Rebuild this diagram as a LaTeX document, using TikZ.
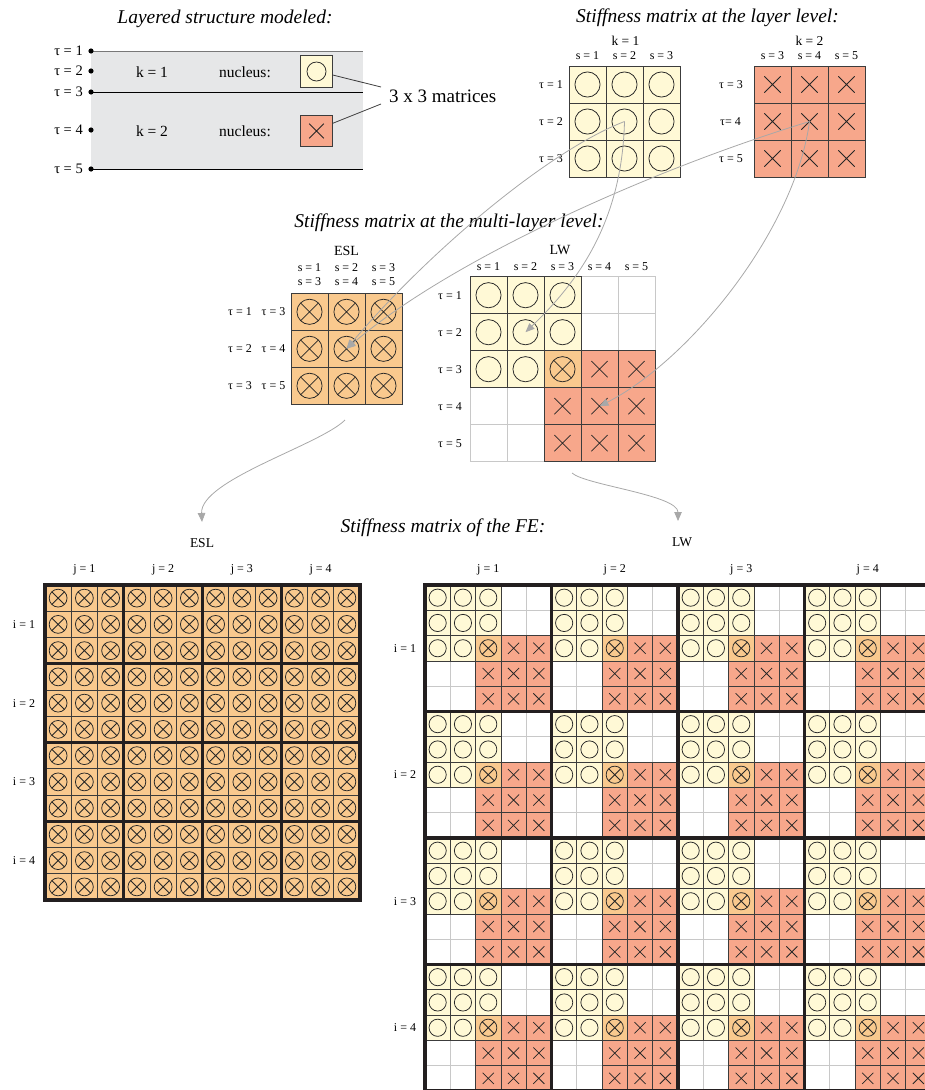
\documentclass[tikz,border=0pt]{standalone}
\usepackage{fontspec}
\setmainfont{Liberation Serif}
\usetikzlibrary{arrows.meta,calc}

\definecolor{cCream}{HTML}{FFF9D6}
\definecolor{cSal}{HTML}{F7A78B}
\definecolor{cOr}{HTML}{F9C98E}
\definecolor{cBand}{HTML}{E6E7E8}
\definecolor{cBd}{HTML}{3C3C3C}
\definecolor{cLt}{HTML}{C8C8C8}
\definecolor{cArr}{HTML}{A8A8A8}
\definecolor{cThick}{HTML}{231F20}
\definecolor{cTop}{HTML}{787878}

\newcommand\titlefont{\fontsize{19.5}{22}\selectfont\itshape}
\newcommand\bigfont{\fontsize{19}{22}\selectfont}
\newcommand\labfont{\fontsize{12}{14}\selectfont}
\newcommand\kfont{\fontsize{13.5}{16}\selectfont}
\newcommand\midfont{\fontsize{15.5}{18}\selectfont}
\newcommand\taufont{\fontsize{14.5}{17}\selectfont}

\newcommand\symN[3]{}
\newcommand\symO[3]{\draw[symline] (#1,#2) circle[radius={#3*0.34pt}];}
\newcommand\symX[3]{\pgfmathsetmacro\hh{#3*0.22}%
  \draw[symline] ({#1-\hh},{#2-\hh}) -- ({#1+\hh},{#2+\hh}) ({#1-\hh},{#2+\hh}) -- ({#1+\hh},{#2-\hh});}
\newcommand\symOX[3]{\pgfmathsetmacro\hh{#3*0.34*0.7071}%
  \draw[symline] (#1,#2) circle[radius={#3*0.34pt}] ({#1-\hh},{#2-\hh}) -- ({#1+\hh},{#2+\hh}) ({#1-\hh},{#2+\hh}) -- ({#1+\hh},{#2-\hh});}
\newcommand\drawcell[6]{\pgfmathsetmacro\hs{#3/2}%
  \filldraw[fill=#4,draw=#5,line width=0.8pt] ({#1-\hs},{#2-\hs}) rectangle ({#1+\hs},{#2+\hs});%
  \csname sym#6\endcsname{#1}{#2}{#3}}
% uniform matrix: x0 y0 cell rows cols fill sym
\newcommand\uniform[7]{%
  \foreach \rr in {1,...,#4}{\foreach \cc in {1,...,#5}{%
    \pgfmathsetmacro\cx{#1+(\cc-0.5)*#3}\pgfmathsetmacro\cy{#2+(\rr-0.5)*#3}%
    \drawcell{\cx}{\cy}{#3}{#6}{cBd}{#7}}}}
% LW 5x5 block: x0 y0 cell
\newcommand\lwblock[3]{%
  \foreach \rr in {0,...,4}{\foreach \cc in {0,...,4}{%
    \pgfmathsetmacro\cx{#1+(\cc+0.5)*#3}\pgfmathsetmacro\cy{#2+(\rr+0.5)*#3}%
    \drawcell{\cx}{\cy}{#3}{white}{cLt}{N}}}%
  \foreach \rr in {0,...,4}{\foreach \cc in {0,...,4}{%
    \pgfmathtruncatemacro\kk{(\rr<3)*(\cc<3)+3*(\rr>1)*(\cc>1)}%
    \pgfmathsetmacro\cx{#1+(\cc+0.5)*#3}\pgfmathsetmacro\cy{#2+(\rr+0.5)*#3}%
    \ifcase\kk
      \or \drawcell{\cx}{\cy}{#3}{cCream}{cBd}{O}%
      \or
      \or \drawcell{\cx}{\cy}{#3}{cSal}{cBd}{X}%
      \or \drawcell{\cx}{\cy}{#3}{cOr}{cBd}{OX}%
    \fi}}}

\begin{document}
\begin{tikzpicture}[x=1pt,y=-1pt,
  symline/.style={draw=black!85,line width=0.75pt},
  ttl/.style={font=\titlefont,inner sep=0pt},
  lab/.style={font=\labfont,inner sep=0pt},
  klab/.style={font=\kfont,inner sep=0pt},
  midlab/.style={font=\midfont,inner sep=0pt},
  taulab/.style={font=\taufont,inner sep=0pt},
  nucbox/.style={draw=cBd,line width=0.9pt,minimum size=31.6pt,inner sep=0pt},
  conn/.style={draw=cArr,line width=0.8pt,-{Triangle[length=9pt,width=7.5pt]}},
  thickl/.style={draw=cThick,line width=3.2pt,line cap=rect}]
\useasboundingbox (0,0) rectangle (925,1090);
\clip (0,0) rectangle (925,1090);

% titles
\node[ttl,anchor=base] (T1) at (225,23.3) {Layered structure modeled:};
\node[ttl,anchor=base] (T2) at (707.5,22.5) {Stiffness matrix at the layer level:};
\node[ttl,anchor=base] (T3) at (449,227) {Stiffness matrix at the multi-layer level:};
\node[ttl,anchor=base] (T4) at (443,532) {Stiffness matrix of the FE:};

% layered structure
\fill[cBand] (91,51) rectangle (363,169);
\foreach \n/\yy in {1/51,2/71,3/92,4/130,5/169}{
  \coordinate (tau\n) at (91,\yy);
  \node[taulab,anchor=east] (taul\n) at (83,\yy) {τ = \n};
}
\draw[line width=1pt,cTop] (tau1) -- ++(272,0);
\draw[line width=0.9pt] (tau3) -- ++(272,0);
\draw[line width=0.9pt] (tau5) -- ++(272,0);
\foreach \n in {1,...,5}{\fill (tau\n) circle[radius=2.6pt];}
\node[midlab] (k1) at (152,72) {k = 1};
\node[midlab] (nu1) at (245,72) {nucleus:};
\node[midlab] (k2) at (152,131) {k = 2};
\node[midlab] (nu2) at (245,131) {nucleus:};
\node[nucbox,fill=cCream] (nuc1) at (316.5,71.5) {};
\symO{316.5}{71.5}{28}
\node[nucbox,fill=cSal] (nuc2) at (316.5,131) {};
\symX{316.5}{131}{33}
\node[font=\bigfont,inner sep=0pt,anchor=west] (m33) at (389,96) {3 x 3 matrices};
\draw[line width=0.8pt,cBd] ([yshift=-3.5pt]nuc1.east) -- ([xshift=-8pt,yshift=9pt]m33.west);
\draw[line width=0.8pt,cBd] ([yshift=7.7pt]nuc2.east) -- ([xshift=-8pt,yshift=-8pt]m33.west);

% layer level matrices
\uniform{569}{66}{37}{3}{3}{cCream}{O}
\uniform{754}{66}{37}{3}{3}{cSal}{X}
\node[klab] (lk1) at (625.5,41) {k = 1};
\node[klab] (lk2) at (809.5,41) {k = 2};
\foreach \s [count=\i from 0] in {1,2,3}{
  \node[lab] (ls1\s) at ({587.5+37*\i},56) {s = \s};}
\foreach \s [count=\i from 0] in {3,4,5}{
  \node[lab] (ls2\s) at ({772.5+37*\i},56) {s = \s};}
\foreach \t [count=\i from 0] in {1,2,3}{
  \node[lab,anchor=east] (lt1\t) at (563,{84.5+37*\i}) {τ = \t};}
\node[lab,anchor=east] (lt23) at (743,84.5) {τ = 3};
\node[lab,anchor=east] (lt24) at (741,121.5) {τ= 4};
\node[lab,anchor=east] (lt25) at (743,158.5) {τ = 5};
\coordinate (k1c) at (624.5,121.5);
\coordinate (k2c) at (809.5,121.5);

% multi-layer level
\uniform{291}{293.3}{37}{3}{3}{cOr}{OX}
\lwblock{470}{276.7}{37}
\node[font=\fontsize{14}{16}\selectfont,inner sep=0pt] (eslT) at (346.5,250.5) {ESL};
\node[font=\fontsize{14}{16}\selectfont,inner sep=0pt] (lwT) at (560,250) {LW};
\foreach \s [count=\i from 0] in {1,2,3}{
  \node[lab] (es\s) at ({309.5+37*\i},268) {s = \s};}
\foreach \s [count=\i from 0] in {3,4,5}{
  \node[lab] (esb\s) at ({309.5+37*\i},282) {s = \s};}
\foreach \t/\u [count=\i from 0] in {1/3,2/4,3/5}{
  \node[lab,anchor=east] (et\t) at (252,{311.8+37*\i}) {τ = \t};
  \node[lab,anchor=east] (etb\u) at (285.5,{311.8+37*\i}) {τ = \u};}
\foreach \s [count=\i from 0] in {1,...,5}{
  \node[lab] (ls\s) at ({488.5+37*\i},266.7) {s = \s};
  \node[lab,anchor=east] (lt\s) at (462,{295.2+37*\i}) {τ = \s};}
\coordinate (eslc) at (346.5,348.8);
\coordinate (lw22) at (525.5,332.2);
\coordinate (lw44) at (599.5,406.2);

% connectors
\draw[conn] (k1c) .. controls (550,150) and (430,250) .. (eslc);
\draw[conn] (k2c) .. controls (650,170) and (450,260) .. (eslc);
\draw[conn] (k1c) .. controls (622,220) and (580,280) .. (lw22);
\draw[conn] (k2c) .. controls (795,230) and (690,360) .. (lw44);
\coordinate (eslout) at (345,420);
\coordinate (eslin) at (202,522);
\draw[conn] (eslout) .. controls (320,445) and (200,480) .. (eslin);
\coordinate (lwout) at (572,473);
\coordinate (lwin) at (678,521);
\draw[conn] (lwout) .. controls (585,485) and (678,495) .. (lwin);

% FE level labels
\node[font=\fontsize{13.5}{16}\selectfont,inner sep=0pt] (feESL) at (202,543) {ESL};
\node[font=\fontsize{13.5}{16}\selectfont,inner sep=0pt] (feLW) at (682,542) {LW};

% ESL FE grid
\uniform{45}{585}{26.25}{12}{12}{cOr}{OX}
\foreach \k in {0,...,4}{
  \draw[thickl] ({45+78.75*\k},585) -- ({45+78.75*\k},900);
  \draw[thickl] (45,{585+78.75*\k}) -- (360,{585+78.75*\k});}
\foreach \k in {1,...,4}{
  \node[lab] (ej\k) at ({45+78.75*(\k-0.5)},570) {j = \k};
  \node[lab] (ei\k) at (24,{585+78.75*(\k-0.5)}) {i = \k};}

% LW FE grid
\foreach \bi in {0,...,3}{\foreach \bj in {0,...,3}{
  \pgfmathsetmacro\bx{425+126.5*\bj}\pgfmathsetmacro\by{585+126.5*\bi}
  \lwblock{\bx}{\by}{25.3}}}
\foreach \k in {0,...,4}{
  \draw[thickl] ({425+126.5*\k},585) -- ({425+126.5*\k},1091);
  \draw[thickl] (425,{585+126.5*\k}) -- (931,{585+126.5*\k});}
\foreach \k in {1,...,4}{
  \node[lab] (lj\k) at ({425+126.5*(\k-0.5)},570) {j = \k};
  \node[lab] (li\k) at (405,{585+126.5*(\k-0.5)}) {i = \k};}
\end{tikzpicture}
\end{document}
